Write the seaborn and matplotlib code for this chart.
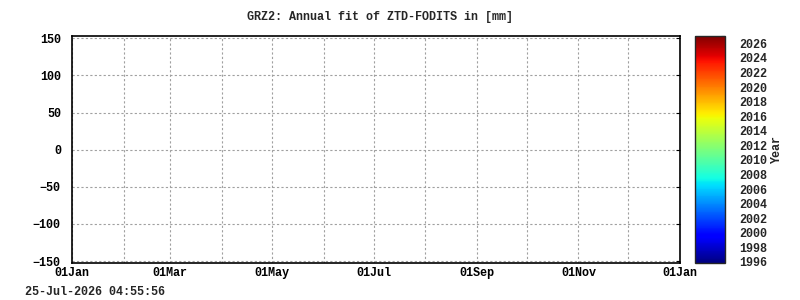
import matplotlib
matplotlib.use("Agg")
import matplotlib.pyplot as plt
import matplotlib as mpl
import numpy as np
import pandas as pd
import seaborn as sns

# ---- data (the reference chart contains no plotted points) ----
day_of_year = []
ztd_fit_mm = []
years = []

month_starts = [0, 31, 59, 90, 120, 151, 181, 212, 243, 273, 304, 334, 365]
month_labels = ["01Jan", "", "01Mar", "", "01May", "", "01Jul", "", "01Sep", "", "01Nov", "", "01Jan"]
y_ticks = [-150, -100, -50, 0, 50, 100, 150]
cbar_ticks = list(range(1996, 2027, 2))
title = "GRZ2: Annual fit of ZTD-FODITS in [mm]"
timestamp = "25-Jul-2026 04:55:56"

sns.set_style("white")
plt.rcParams["font.family"] = ["Liberation Mono", "DejaVu Sans Mono"]
plt.rcParams["font.weight"] = "bold"
fs = 8.5

fig = plt.figure(figsize=(8, 3), dpi=100)
ax = fig.add_axes([72/800, 37/300, 608/800, 227/300])
cax = fig.add_axes([695/800, 37/300, 30/800, 227/300])

df = pd.DataFrame({"day": pd.Series(day_of_year, dtype=float),
                   "val": pd.Series(ztd_fit_mm, dtype=float),
                   "year": pd.Series(years, dtype=float)})
sns.scatterplot(data=df, x="day", y="val", hue="year", palette="jet", ax=ax, legend=False)

ax.set_xlim(0, 365)
ax.set_ylim(-152.5, 153)
ax.set_xticks(month_starts)
ax.set_xticklabels(month_labels, fontsize=fs, fontweight="bold")
ax.set_yticks(y_ticks)
ax.set_yticklabels([str(v).replace("-", "\u2212") for v in y_ticks], fontsize=fs, fontweight="bold")
ax.set_xlabel("")
ax.set_ylabel("")
ax.grid(True, color="#a0a0a0", linestyle=(0, (2, 2)), linewidth=0.8)
ax.tick_params(axis="both", direction="in", length=3, width=0.8,
               right=True, top=False, colors="black")
ax.tick_params(axis="y", pad=8)
ax.tick_params(axis="x", pad=3)
for s in ax.spines.values():
    s.set_color("black")
    s.set_linewidth(1.2)

norm = mpl.colors.Normalize(vmin=1995.85, vmax=2027.0)
cb = fig.colorbar(mpl.cm.ScalarMappable(norm=norm, cmap="jet"), cax=cax)
cb.set_ticks(cbar_ticks)
cb.set_ticklabels([str(t) for t in cbar_ticks])
cb.ax.yaxis.set_minor_locator(mpl.ticker.MultipleLocator(1))
cb.ax.tick_params(which="both", direction="in", length=3, width=0.8, labelsize=fs, pad=10.5)
for lab in cb.ax.get_yticklabels():
    lab.set_fontweight("bold")
cb.outline.set_linewidth(1.0)

fig.text(777/800, 1 - 150/300, "Year", rotation=90, ha="center", va="center",
         fontsize=fs, fontweight="bold")
fig.text(380/800, 1 - 17/300, title, ha="center", va="center", fontsize=fs, fontweight="bold")
fig.text(25/800, 1 - 292/300, timestamp, ha="left", va="center", fontsize=fs, fontweight="bold")

fig.savefig("out.png", dpi=100)
